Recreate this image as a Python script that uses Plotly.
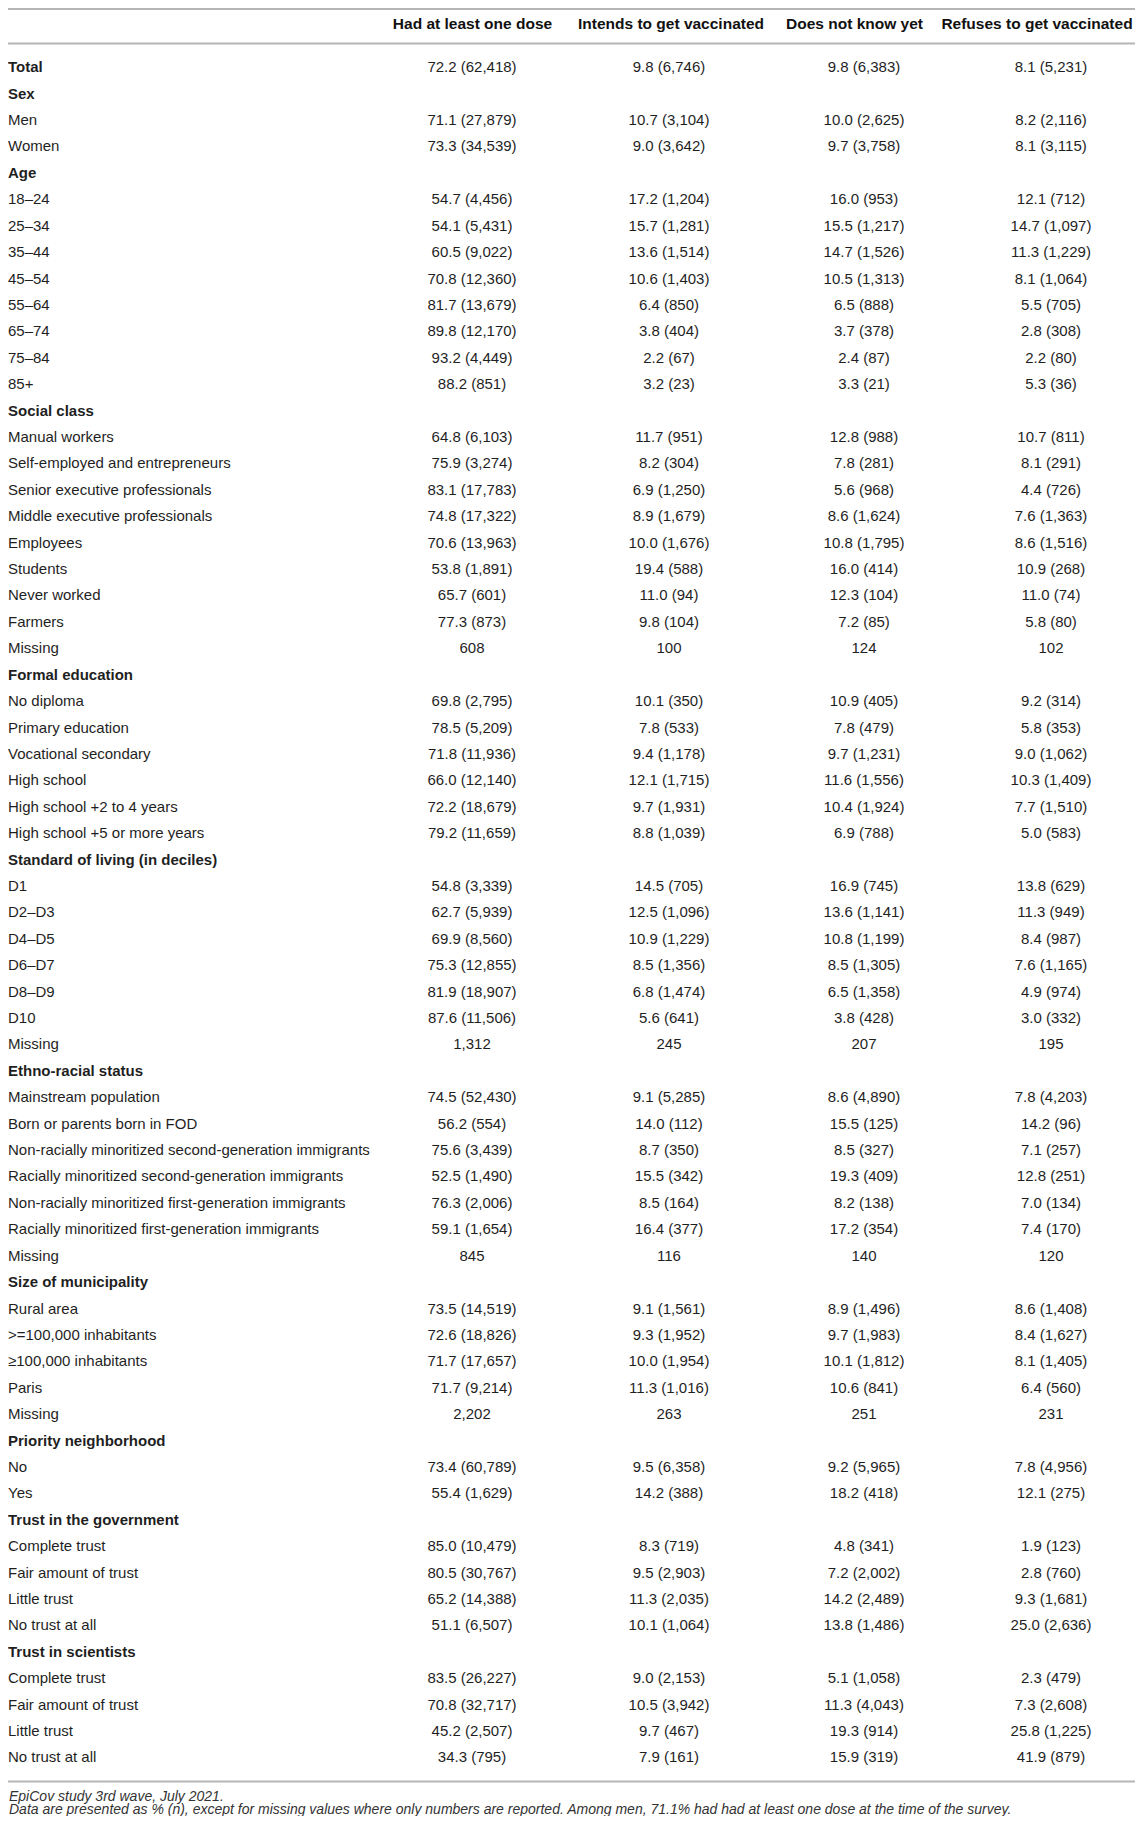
import plotly.graph_objects as go

N = None

columns = ["Had at least one dose", "Intends to get vaccinated",
           "Does not know yet", "Refuses to get vaccinated"]

labels = [
    "Total",
    "Sex", "Men", "Women",
    "Age", "18–24", "25–34", "35–44", "45–54", "55–64", "65–74", "75–84", "85+",
    "Social class", "Manual workers", "Self-employed and entrepreneurs",
    "Senior executive professionals", "Middle executive professionals",
    "Employees", "Students", "Never worked", "Farmers", "Missing",
    "Formal education", "No diploma", "Primary education", "Vocational secondary",
    "High school", "High school +2 to 4 years", "High school +5 or more years",
    "Standard of living (in deciles)", "D1", "D2–D3", "D4–D5", "D6–D7", "D8–D9",
    "D10", "Missing",
    "Ethno-racial status", "Mainstream population", "Born or parents born in FOD",
    "Non-racially minoritized second-generation immigrants",
    "Racially minoritized second-generation immigrants",
    "Non-racially minoritized first-generation immigrants",
    "Racially minoritized first-generation immigrants", "Missing",
    "Size of municipality", "Rural area", ">=100,000 inhabitants",
    "≥100,000 inhabitants", "Paris", "Missing",
    "Priority neighborhood", "No", "Yes",
    "Trust in the government", "Complete trust", "Fair amount of trust",
    "Little trust", "No trust at all",
    "Trust in scientists", "Complete trust", "Fair amount of trust",
    "Little trust", "No trust at all",
]

bold_labels = ["Total", "Sex", "Age", "Social class", "Formal education",
               "Standard of living (in deciles)", "Ethno-racial status",
               "Size of municipality", "Priority neighborhood",
               "Trust in the government", "Trust in scientists"]

dose_pct = [72.2,
            N, 71.1, 73.3,
            N, 54.7, 54.1, 60.5, 70.8, 81.7, 89.8, 93.2, 88.2,
            N, 64.8, 75.9, 83.1, 74.8, 70.6, 53.8, 65.7, 77.3, N,
            N, 69.8, 78.5, 71.8, 66.0, 72.2, 79.2,
            N, 54.8, 62.7, 69.9, 75.3, 81.9, 87.6, N,
            N, 74.5, 56.2, 75.6, 52.5, 76.3, 59.1, N,
            N, 73.5, 72.6, 71.7, 71.7, N,
            N, 73.4, 55.4,
            N, 85.0, 80.5, 65.2, 51.1,
            N, 83.5, 70.8, 45.2, 34.3]
dose_n = [62418,
          N, 27879, 34539,
          N, 4456, 5431, 9022, 12360, 13679, 12170, 4449, 851,
          N, 6103, 3274, 17783, 17322, 13963, 1891, 601, 873, 608,
          N, 2795, 5209, 11936, 12140, 18679, 11659,
          N, 3339, 5939, 8560, 12855, 18907, 11506, 1312,
          N, 52430, 554, 3439, 1490, 2006, 1654, 845,
          N, 14519, 18826, 17657, 9214, 2202,
          N, 60789, 1629,
          N, 10479, 30767, 14388, 6507,
          N, 26227, 32717, 2507, 795]

intend_pct = [9.8,
              N, 10.7, 9.0,
              N, 17.2, 15.7, 13.6, 10.6, 6.4, 3.8, 2.2, 3.2,
              N, 11.7, 8.2, 6.9, 8.9, 10.0, 19.4, 11.0, 9.8, N,
              N, 10.1, 7.8, 9.4, 12.1, 9.7, 8.8,
              N, 14.5, 12.5, 10.9, 8.5, 6.8, 5.6, N,
              N, 9.1, 14.0, 8.7, 15.5, 8.5, 16.4, N,
              N, 9.1, 9.3, 10.0, 11.3, N,
              N, 9.5, 14.2,
              N, 8.3, 9.5, 11.3, 10.1,
              N, 9.0, 10.5, 9.7, 7.9]
intend_n = [6746,
            N, 3104, 3642,
            N, 1204, 1281, 1514, 1403, 850, 404, 67, 23,
            N, 951, 304, 1250, 1679, 1676, 588, 94, 104, 100,
            N, 350, 533, 1178, 1715, 1931, 1039,
            N, 705, 1096, 1229, 1356, 1474, 641, 245,
            N, 5285, 112, 350, 342, 164, 377, 116,
            N, 1561, 1952, 1954, 1016, 263,
            N, 6358, 388,
            N, 719, 2903, 2035, 1064,
            N, 2153, 3942, 467, 161]

unsure_pct = [9.8,
              N, 10.0, 9.7,
              N, 16.0, 15.5, 14.7, 10.5, 6.5, 3.7, 2.4, 3.3,
              N, 12.8, 7.8, 5.6, 8.6, 10.8, 16.0, 12.3, 7.2, N,
              N, 10.9, 7.8, 9.7, 11.6, 10.4, 6.9,
              N, 16.9, 13.6, 10.8, 8.5, 6.5, 3.8, N,
              N, 8.6, 15.5, 8.5, 19.3, 8.2, 17.2, N,
              N, 8.9, 9.7, 10.1, 10.6, N,
              N, 9.2, 18.2,
              N, 4.8, 7.2, 14.2, 13.8,
              N, 5.1, 11.3, 19.3, 15.9]
unsure_n = [6383,
            N, 2625, 3758,
            N, 953, 1217, 1526, 1313, 888, 378, 87, 21,
            N, 988, 281, 968, 1624, 1795, 414, 104, 85, 124,
            N, 405, 479, 1231, 1556, 1924, 788,
            N, 745, 1141, 1199, 1305, 1358, 428, 207,
            N, 4890, 125, 327, 409, 138, 354, 140,
            N, 1496, 1983, 1812, 841, 251,
            N, 5965, 418,
            N, 341, 2002, 2489, 1486,
            N, 1058, 4043, 914, 319]

refuse_pct = [8.1,
              N, 8.2, 8.1,
              N, 12.1, 14.7, 11.3, 8.1, 5.5, 2.8, 2.2, 5.3,
              N, 10.7, 8.1, 4.4, 7.6, 8.6, 10.9, 11.0, 5.8, N,
              N, 9.2, 5.8, 9.0, 10.3, 7.7, 5.0,
              N, 13.8, 11.3, 8.4, 7.6, 4.9, 3.0, N,
              N, 7.8, 14.2, 7.1, 12.8, 7.0, 7.4, N,
              N, 8.6, 8.4, 8.1, 6.4, N,
              N, 7.8, 12.1,
              N, 1.9, 2.8, 9.3, 25.0,
              N, 2.3, 7.3, 25.8, 41.9]
refuse_n = [5231,
            N, 2116, 3115,
            N, 712, 1097, 1229, 1064, 705, 308, 80, 36,
            N, 811, 291, 726, 1363, 1516, 268, 74, 80, 102,
            N, 314, 353, 1062, 1409, 1510, 583,
            N, 629, 949, 987, 1165, 974, 332, 195,
            N, 4203, 96, 257, 251, 134, 170, 120,
            N, 1408, 1627, 1405, 560, 231,
            N, 4956, 275,
            N, 123, 760, 1681, 2636,
            N, 479, 2608, 1225, 879]

footnotes = ["EpiCov study 3rd wave, July 2021.",
             "Data are presented as % (n), except for missing values where only "
             "numbers are reported. Among men, 71.1% had had at least one dose "
             "at the time of the survey."]


def fmt(p, n):
    if n is None:
        return ""
    if p is None:
        return f"{n:,}"
    return f"{p:.1f} ({n:,})"


# figure geometry in pixels (the page body adds an 8px margin around it)
W, H = 1135, 1808
ROW0, STEP = 60.5, 26.41          # first body row, row pitch
FONT = "Liberation Sans, Arial, Helvetica, sans-serif"
LABEL_X = 0
DATA_X = [464, 661, 856, 1043]
HEAD_X = [464.5, 663, 846.5, 1029]


def row_of(px):
    # pixel offset from top of figure -> value on the row-index y axis
    return (px - ROW0) / STEP


rows = list(range(len(labels)))
fig = go.Figure()

# row labels
fig.add_trace(go.Scatter(
    x=[LABEL_X] * len(labels), y=rows, mode="text",
    text=[f"<b>{l}</b>" if l in bold_labels else l for l in labels],
    textposition="middle right", cliponaxis=False,
    textfont=dict(family=FONT, size=15, color="#1f1f1f"),
    hoverinfo="skip", showlegend=False))

# value columns
series = [(dose_pct, dose_n), (intend_pct, intend_n),
          (unsure_pct, unsure_n), (refuse_pct, refuse_n)]
for cx, (pcts, ns) in zip(DATA_X, series):
    fig.add_trace(go.Scatter(
        x=[cx] * len(rows), y=rows, mode="text",
        text=[fmt(p, n) for p, n in zip(pcts, ns)],
        textposition="middle center", cliponaxis=False,
        textfont=dict(family=FONT, size=15, color="#1f1f1f"),
        hoverinfo="skip", showlegend=False))

# column headers
fig.add_trace(go.Scatter(
    x=HEAD_X, y=[row_of(17.5)] * len(columns), mode="text",
    text=[f"<b>{c}</b>" for c in columns],
    textposition="middle center", cliponaxis=False,
    textfont=dict(family=FONT, size=15.5, color="#111111"),
    hoverinfo="skip", showlegend=False))

# horizontal rules
for ypx in (1, 35.5, 1773.5):
    fig.add_shape(type="line", xref="paper", yref="y",
                  x0=0, x1=1, y0=row_of(ypx), y1=row_of(ypx),
                  line=dict(color="#b5b5b5", width=2))

for txt, ypx in zip(footnotes, (1788, 1801)):
    fig.add_annotation(text=f"<i>{txt}</i>", xref="x", yref="y",
                       x=0, y=row_of(ypx), xanchor="left", yanchor="middle",
                       showarrow=False, borderpad=0,
                       font=dict(family=FONT, size=14, color="#333333"))

fig.update_xaxes(range=[0, W], visible=False, fixedrange=True)
fig.update_yaxes(range=[row_of(H), row_of(0)], visible=False, fixedrange=True)
fig.update_layout(width=W, height=H, margin=dict(l=0, r=0, t=0, b=0),
                  paper_bgcolor="white", plot_bgcolor="white")

fig.write_html("out.html")
